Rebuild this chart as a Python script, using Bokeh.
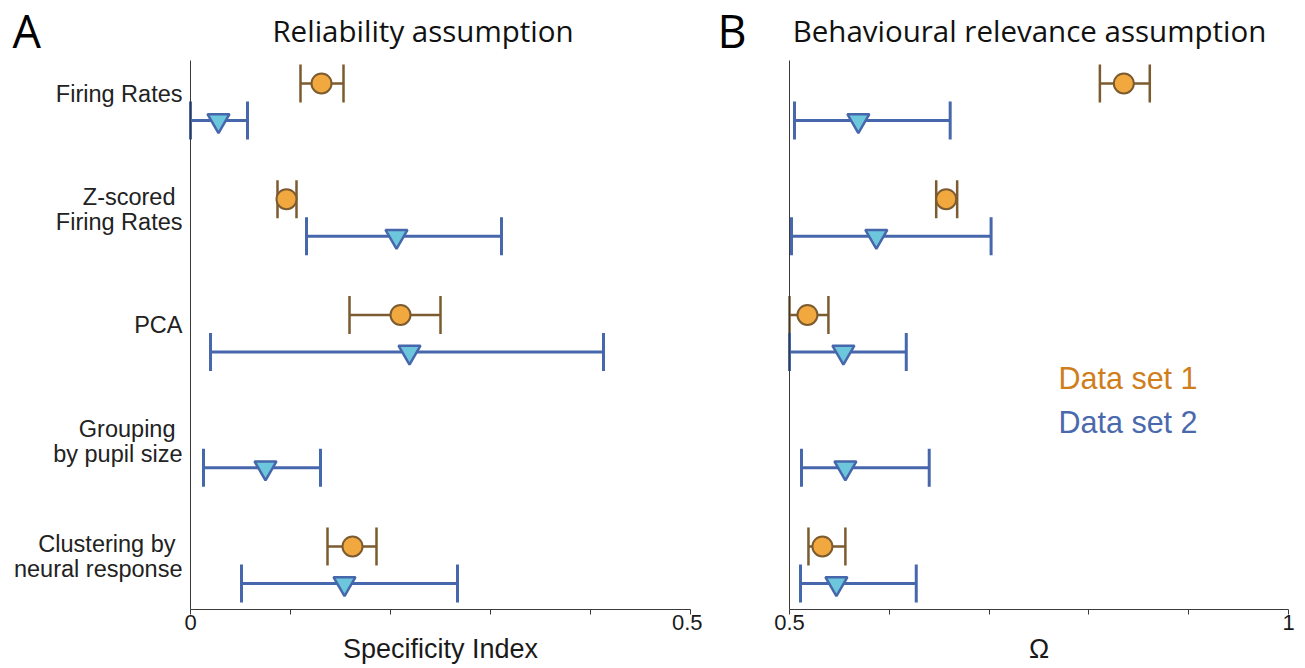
from bokeh.plotting import figure
from bokeh.models import ColumnDataSource, Whisker, TeeHead, Label, FixedTicker, Range1d
from bokeh.layouts import row
from bokeh.embed import file_html
from bokeh.resources import INLINE

# ---------------- data ----------------
categories = ["Firing Rates", "Z-scored\nFiring Rates", "PCA",
              "Grouping\nby pupil size", "Clustering by\nneural response"]

# Panel A: Specificity Index (reliability assumption)
rel_ds1_mean = [0.131, 0.096, 0.210, None, 0.162]
rel_ds1_lo   = [0.110, 0.087, 0.159, None, 0.137]
rel_ds1_hi   = [0.153, 0.106, 0.250, None, 0.186]
rel_ds2_mean = [0.028, 0.206, 0.219, 0.075, 0.154]
rel_ds2_lo   = [0.000, 0.116, 0.020, 0.013, 0.051]
rel_ds2_hi   = [0.057, 0.311, 0.413, 0.130, 0.267]

# Panel B: Omega (behavioural relevance assumption)
beh_ds1_mean = [0.835, 0.657, 0.518, None, 0.533]
beh_ds1_lo   = [0.811, 0.647, 0.500, None, 0.519]
beh_ds1_hi   = [0.861, 0.668, 0.539, None, 0.556]
beh_ds2_mean = [0.569, 0.587, 0.554, 0.556, 0.547]
beh_ds2_lo   = [0.505, 0.502, 0.500, 0.512, 0.511]
beh_ds2_hi   = [0.661, 0.702, 0.617, 0.640, 0.627]

series_names = ["Data set 1", "Data set 2"]
xticks_a = [0, 0.5]
xticks_b = [0.5, 1]

# ---------------- style ----------------
ORANGE_FILL = "#F1A83F"
ORANGE_EDGE = "#7B5B2F"
BLUE_LINE = "#4767AC"
TRI_FILL = "#6CC6DC"
TXT_ORANGE = "#D07E1C"
TXT_BLUE = "#4A69AD"
AXIS_COL = "#3a3a3a"
SANS = "Liberation Sans"
TITLE_FONT = "Open Sans"
BASE_FIX = {SANS: 0.35, TITLE_FONT: 0.42}   # baseline correction, in em

OFF = 0.16            # vertical offset of the two series within a row
ROW_PX = 115.75       # pixels per row unit
ROW0_PX = 101.5       # pixel centre of the first row
FRAME_H = 666         # frame spans the whole canvas
AXIS_TOP_PX = 60      # top end of the y-axis line
AXIS_BOT_PX = 609     # x-axis line


def yd(py):
    """canvas pixel row -> data y"""
    return (py - ROW0_PX) / ROW_PX


def text_label(xdata, base_px, text, font, size, align, color):
    return Label(x=xdata, y=yd(base_px - BASE_FIX[font] * size), text=text,
                 text_font=font, text_font_size="%gpx" % size, text_align=align,
                 text_baseline="alphabetic", text_color=color)


def make_panel(title, title_cx, xlabel, x0, x1, left_px, frame_w, ticks, minor,
               d1, d2, letter, letter_px, with_cats, legend_px=None):
    ppu = (frame_w - left_px) / (x1 - x0)          # pixels per data unit
    xs = x0 - left_px / ppu

    def xd(px):
        return xs + px / ppu

    xe = xd(frame_w + 12)
    p = figure(frame_width=frame_w + 12, frame_height=FRAME_H, output_backend="svg",
               toolbar_location=None,
               x_range=Range1d(xs, xe), y_range=Range1d(yd(FRAME_H), yd(0)),
               min_border_left=0, min_border_right=0,
               min_border_top=0, min_border_bottom=0)
    p.outline_line_color = None
    p.grid.visible = False
    p.background_fill_color = "white"
    p.border_fill_color = "white"

    xa = p.xaxis[0]
    xa.fixed_location = yd(AXIS_BOT_PX)
    xa.bounds = (x0, x1)
    xa.ticker = FixedTicker(ticks=ticks, minor_ticks=minor)
    xa.major_label_overrides = {t: ("%g" % t) for t in ticks}
    xa.axis_line_color = AXIS_COL
    xa.major_tick_line_color = AXIS_COL
    xa.minor_tick_line_color = AXIS_COL
    xa.major_tick_in = 0
    xa.major_tick_out = 5
    xa.minor_tick_in = 0
    xa.minor_tick_out = 5
    xa.major_label_standoff = 0
    xa.major_label_text_font = SANS
    xa.major_label_text_font_size = "22px"
    xa.major_label_text_color = "#1a1a1a"

    ya = p.yaxis[0]
    ya.fixed_location = x0
    ya.bounds = (yd(AXIS_TOP_PX), yd(AXIS_BOT_PX))
    ya.ticker = FixedTicker(ticks=[], minor_ticks=[])
    ya.axis_line_color = AXIS_COL
    ya.major_tick_line_color = None
    ya.minor_tick_line_color = None
    ya.major_tick_out = 0
    ya.major_tick_in = 0

    n = len(categories)
    for (mean, lo, hi), off, kind in ((d1, -OFF, 1), (d2, OFF, 2)):
        idx = [i for i in range(n) if mean[i] is not None]
        src = ColumnDataSource(dict(
            y=[i + off for i in idx],
            m=[mean[i] for i in idx],
            lo=[lo[i] for i in idx],
            hi=[hi[i] for i in idx]))
        if kind == 1:
            lc, lw = ORANGE_EDGE, 2.5
        else:
            lc, lw = BLUE_LINE, 3
        w = Whisker(source=src, base="y", lower="lo", upper="hi", dimension="width",
                    line_color=lc, line_width=lw, level="underlay",
                    upper_head=TeeHead(size=38, line_color=lc, line_width=lw),
                    lower_head=TeeHead(size=38, line_color=lc, line_width=lw))
        p.add_layout(w)
        if kind == 1:
            p.scatter(x="m", y="y", source=src, marker="circle", size=20,
                      fill_color=ORANGE_FILL, line_color=ORANGE_EDGE, line_width=2)
        else:
            p.scatter(x="m", y="y", source=src, marker="inverted_triangle", size=22,
                      fill_color=TRI_FILL, line_color=BLUE_LINE, line_width=2.5)

    # panel title, letter and x-axis label
    p.add_layout(text_label(xd(title_cx), 42, title, TITLE_FONT, 29.5, "center", "#111111"))
    p.add_layout(text_label(xd(letter_px), 49, letter, TITLE_FONT, 45, "left", "#000000"))
    p.add_layout(text_label((x0 + x1) / 2, 658, xlabel, SANS, 27, "center", "#1a1a1a"))

    if with_cats:
        for i, cat in enumerate(categories):
            lines = cat.split("\n")
            centre = ROW0_PX + ROW_PX * i
            if len(lines) == 1:
                specs = [(lines[0], 0.0, 182)]
            else:
                specs = [(lines[0], -12.5, 175), (lines[1], 12.5, 182)]
            for txt, dy, rx in specs:
                p.add_layout(text_label(xd(rx), centre + dy, txt, SANS, 23.5, "right",
                                        "#222222"))

    if legend_px is not None:
        lx, ly = legend_px
        for k, (name, col) in enumerate(zip(series_names, (TXT_ORANGE, TXT_BLUE))):
            p.add_layout(text_label(xd(lx), ly + 44 * k, name, SANS, 30.5, "left", col))
    return p


pa = make_panel("Reliability assumption", 422.5, "Specificity Index", 0, 0.5,
                left_px=190, frame_w=690,
                ticks=xticks_a, minor=[0.1, 0.2, 0.3, 0.4],
                d1=(rel_ds1_mean, rel_ds1_lo, rel_ds1_hi),
                d2=(rel_ds2_mean, rel_ds2_lo, rel_ds2_hi),
                letter="A", letter_px=12, with_cats=True)

pb = make_panel("Behavioural relevance assumption", 1029 - 702, "\u03a9", 0.5, 1.0,
                left_px=87, frame_w=586,
                ticks=xticks_b, minor=[0.6, 0.7, 0.8, 0.9],
                d1=(beh_ds1_mean, beh_ds1_lo, beh_ds1_hi),
                d2=(beh_ds2_mean, beh_ds2_lo, beh_ds2_hi),
                letter="B", letter_px=717 - 702, with_cats=False,
                legend_px=(1058 - 702, 388))

layout = row(pa, pb)
open("out.html", "w").write(file_html(layout, INLINE))
